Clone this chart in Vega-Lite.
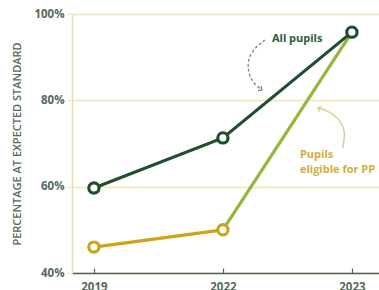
{
  "$schema": "https://vega.github.io/schema/vega-lite/v6.json",
  "autosize": "none",
  "width": 307,
  "height": 259,
  "padding": {"left": 72, "top": 14, "right": 0, "bottom": 17},
  "background": "white",
  "config": {"view": {"stroke": null}, "font": "Open Sans"},
  "resolve": {"scale": {"color": "independent"}},
  "datasets": {
    "lines": [
      {"s": "ppB", "u": 1, "v": 50.0},
      {"s": "ppB", "u": 2, "v": 95.8},
      {"s": "ppA", "u": 0, "v": 46.0},
      {"s": "ppA", "u": 1, "v": 50.0},
      {"s": "all", "u": 0, "v": 59.7},
      {"s": "all", "u": 1, "v": 71.3},
      {"s": "all", "u": 2, "v": 95.8}
    ],
    "points": [
      {"s": "pp", "u": 0, "v": 46.0},
      {"s": "pp", "u": 1, "v": 50.0},
      {"s": "all", "u": 0, "v": 59.7},
      {"s": "all", "u": 1, "v": 71.3},
      {"s": "all", "u": 2, "v": 95.8}
    ],
    "labels": [
      {"t": "All pupils", "u": 1.38, "v": 94.2, "c": "all"},
      {"t": "Pupils", "u": 1.597, "v": 67.3, "c": "pp"},
      {"t": "eligible for PP", "u": 1.597, "v": 63.9, "c": "pp"}
    ],
    "arrowAll": [
      {"o": 0, "u": 1.326, "v": 94.0},
      {"o": 1, "u": 1.209, "v": 91.2},
      {"o": 2, "u": 1.186, "v": 87.5},
      {"o": 3, "u": 1.225, "v": 84.2},
      {"o": 4, "u": 1.302, "v": 82.4}
    ],
    "arrowPP": [
      {"o": 0, "u": 1.93, "v": 69.0},
      {"o": 1, "u": 1.953, "v": 73.1},
      {"o": 2, "u": 1.891, "v": 76.1},
      {"o": 3, "u": 1.798, "v": 77.8},
      {"o": 4, "u": 1.736, "v": 78.2}
    ],
    "headAll": [{"u": 1.302, "v": 82.4}],
    "headPP": [{"u": 1.736, "v": 78.2}]
  },
  "encoding": {
    "x": {
      "field": "u", "type": "quantitative",
      "scale": {"domain": [-0.17, 2.21], "nice": false, "zero": false},
      "axis": {
        "values": [0, 1, 2],
        "labelExpr": "['2019','2022','2023'][datum.value]",
        "title": null, "grid": false,
        "domainColor": "#4a6450", "domainWidth": 1.5,
        "tickColor": "#4a6450", "tickSize": -5, "tickWidth": 1.2,
        "labelPadding": 13, "labelFontSize": 11.5, "labelFontWeight": 700,
        "labelColor": "#55695a", "labelFlush": false
      }
    },
    "y": {
      "field": "v", "type": "quantitative",
      "scale": {"domain": [40, 100], "nice": false, "zero": false},
      "axis": {
        "values": [40, 60, 80, 100],
        "labelExpr": "datum.value + '%'",
        "title": "PERCENTAGE AT EXPECTED STANDARD",
        "titleFontSize": 11, "titleFontWeight": 600, "titleColor": "#55695a",
        "titlePadding": 11,
        "grid": true, "gridColor": "#f2e6b3", "gridWidth": 1.5,
        "domainColor": "#ece0b0", "domainWidth": 1.5,
        "tickColor": "#f2e6b3", "tickSize": 5,
        "labelPadding": 3, "labelFontSize": 11.5, "labelFontWeight": 700,
        "labelColor": "#55695a"
      }
    }
  },
  "layer": [
    {
      "data": {"name": "lines"},
      "mark": {"type": "line", "strokeWidth": 3.2},
      "encoding": {
        "detail": {"field": "s"},
        "color": {"field": "s", "type": "nominal", "legend": null,
          "scale": {"domain": ["ppB", "ppA", "all"], "range": ["#93b73c", "#cda31c", "#1f4f30"]}}
      }
    },
    {
      "data": {"name": "points"},
      "mark": {"type": "point", "filled": false, "fill": "white", "fillOpacity": 1, "strokeWidth": 3.2, "size": 105, "opacity": 1},
      "encoding": {
        "color": {"field": "s", "type": "nominal", "legend": null,
          "scale": {"domain": ["pp", "all"], "range": ["#cda31c", "#1f4f30"]}}
      }
    },
    {
      "data": {"name": "arrowAll"},
      "mark": {"type": "line", "interpolate": "basis", "strokeDash": [3, 2], "strokeWidth": 1.3, "color": "#7a857c"},
      "encoding": {"order": {"field": "o"}}
    },
    {
      "data": {"name": "headAll"},
      "mark": {"type": "point", "shape": "M-1,-1L0,0L-1,1", "filled": false, "strokeWidth": 1.3, "size": 30, "angle": 35, "color": "#7a857c", "opacity": 1}
    },
    {
      "data": {"name": "arrowPP"},
      "mark": {"type": "line", "interpolate": "basis", "strokeWidth": 1.3, "color": "#d8c48f"},
      "encoding": {"order": {"field": "o"}}
    },
    {
      "data": {"name": "headPP"},
      "mark": {"type": "point", "shape": "M-1,-1L0,0L-1,1", "filled": false, "strokeWidth": 1.3, "size": 30, "angle": 200, "color": "#d8c48f", "opacity": 1}
    },
    {
      "data": {"name": "labels"},
      "mark": {"type": "text", "align": "left", "baseline": "middle", "fontSize": 11, "fontWeight": "bold", "font": "Open Sans"},
      "encoding": {
        "text": {"field": "t"},
        "color": {"field": "c", "type": "nominal", "legend": null,
          "scale": {"domain": ["all", "pp"], "range": ["#2d5a3a", "#d4ae38"]}}
      }
    }
  ]
}
